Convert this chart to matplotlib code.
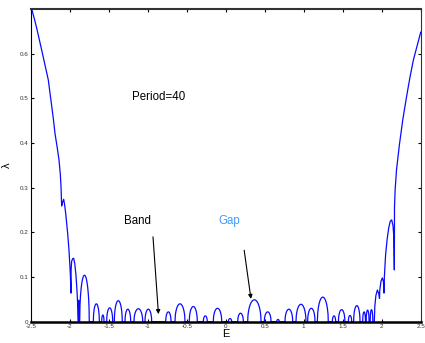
import numpy as np
import matplotlib
matplotlib.use("Agg")
import matplotlib.pyplot as plt

plt.rcParams['font.family'] = ['Liberation Sans', 'DejaVu Sans']

# Lyapunov exponent vs energy, period-40 potential
# steep band-edge walls, given as sampled (E, lambda) points
left_wall_E = [-2.50, -2.487, -2.45, -2.42, -2.39, -2.359, -2.32, -2.274, -2.24, -2.21,
               -2.188, -2.16, -2.137, -2.12, -2.111, -2.103, -2.09, -2.077, -2.065,
               -2.051, -2.026, -2.009, -1.992, -1.983,
               -1.982, -1.975, -1.962, -1.949, -1.935, -1.92, -1.905, -1.895, -1.890]
left_wall_L = [0.712, 0.700, 0.676, 0.655, 0.632, 0.608, 0.577, 0.541, 0.496, 0.455,
               0.421, 0.390, 0.362, 0.330, 0.302, 0.259, 0.268, 0.274, 0.262,
               0.242, 0.198, 0.160, 0.108, 0.064,
               0.115, 0.135, 0.141, 0.142, 0.130, 0.105, 0.065, 0.030, 0.000]

right_wall_E = [1.905, 1.912, 1.925, 1.944, 1.962, 1.972, 1.975, 1.99, 2.008, 2.022,
                2.030, 2.034, 2.05, 2.07, 2.09, 2.11, 2.128, 2.145, 2.155, 2.162,
                2.164, 2.172, 2.19, 2.226, 2.27, 2.32, 2.36, 2.405, 2.45, 2.49, 2.50]
right_wall_L = [0.000, 0.035, 0.058, 0.071, 0.063, 0.052, 0.070, 0.090, 0.098, 0.090,
                0.064, 0.100, 0.150, 0.185, 0.210, 0.225, 0.228, 0.215, 0.190, 0.116,
                0.255, 0.295, 0.340, 0.395, 0.452, 0.505, 0.545, 0.585, 0.615, 0.641, 0.648]

# gaps inside the spectrum: left edge, right edge, maximum lambda
gap_lo = [-1.889, -1.872, -1.697, -1.59, -1.526, -1.428, -1.291, -1.176, -1.035,
          -0.769, -0.65, -0.467, -0.287, -0.159, 0.034, 0.154, 0.282, 0.495,
          0.654, 0.760, 0.901, 1.050, 1.175, 1.367, 1.445, 1.572, 1.640, 1.756,
          1.800, 1.852]
gap_hi = [-1.881, -1.749, -1.62, -1.56, -1.449, -1.326, -1.218, -1.064, -0.949,
          -0.701, -0.522, -0.364, -0.236, -0.051, 0.077, 0.226, 0.453, 0.581,
          0.687, 0.859, 1.029, 1.145, 1.315, 1.41, 1.528, 1.615, 1.722, 1.792,
          1.838, 1.886]
gap_max = [0.048, 0.104, 0.040, 0.015, 0.031, 0.047, 0.028, 0.029, 0.028,
           0.022, 0.040, 0.034, 0.013, 0.030, 0.007, 0.019, 0.049, 0.022,
           0.005, 0.028, 0.039, 0.030, 0.055, 0.013, 0.027, 0.014, 0.036, 0.022,
           0.026, 0.027]

xticks = [-2.5, -2, -1.5, -1, -0.5, 0, 0.5, 1, 1.5, 2, 2.5]
xtick_labels = ['-2.5', '-2', '-1.5', '-1', '-0.5', '0', '0.5', '1', '1.5', '2', '2.5']
yticks = [0, 0.1, 0.2, 0.3, 0.4, 0.5, 0.6]
ytick_labels = ['0', '0.1', '0.2', '0.3', '0.4', '0.5', '0.6']

# assemble the curve: walls + semicircular humps over each gap, zero in bands
E_parts = [np.array(left_wall_E)]
L_parts = [np.array(left_wall_L)]
for a, b, h in zip(gap_lo, gap_hi, gap_max):
    t = np.linspace(-1, 1, 61)
    E_parts.append((a + b) / 2 + t * (b - a) / 2)
    L_parts.append(h * np.sqrt(np.clip(1 - t ** 2, 0, None)))
E_parts.append(np.array(right_wall_E))
L_parts.append(np.array(right_wall_L))
E = np.concatenate(E_parts)
L = np.concatenate(L_parts)

fig = plt.figure(figsize=(4.25, 3.43), dpi=100)
ax = fig.add_axes([0.0722, 0.0621, 0.9177, 0.9117])
ax.plot(E, L, color='#0a0aff', lw=0.9, zorder=2)

ax.set_xlim(-2.5, 2.5)
ax.set_ylim(0, 0.7)
ax.set_xticks(xticks)
ax.set_xticklabels(xtick_labels)
ax.set_yticks(yticks)
ax.set_yticklabels(ytick_labels)
ax.tick_params(direction='in', length=2.5, width=0.8, top=True, right=True,
               labelsize=4.5, labelcolor='#333333', pad=1.5)

for side, lw, col in [('bottom', 1.8, 'black'), ('top', 1.5, '#333333'),
                      ('left', 0.8, 'black'), ('right', 0.8, '#333333')]:
    ax.spines[side].set_linewidth(lw)
    ax.spines[side].set_color(col)
    ax.spines[side].set_zorder(3)

ax.set_xlabel('E', fontsize=8, labelpad=0.5)
ax.set_ylabel('λ', fontsize=8, labelpad=6)

ax.text(-0.854, 0.503, 'Period=40', fontsize=8.3, ha='center', va='center')
ax.text(-1.131, 0.225, 'Band', fontsize=8.3, ha='center', va='center')
ax.text(0.04, 0.225, 'Gap', fontsize=8.3, ha='center', va='center', color='#3d9bff')

arrow = dict(arrowstyle='-|>', color='black', lw=0.8, mutation_scale=6,
             shrinkA=0, shrinkB=0)
ax.annotate('', xy=(-0.862, 0.017), xytext=(-0.932, 0.190), arrowprops=arrow)
ax.annotate('', xy=(0.324, 0.051), xytext=(0.237, 0.160), arrowprops=arrow)

fig.savefig('out.png', dpi=100)
